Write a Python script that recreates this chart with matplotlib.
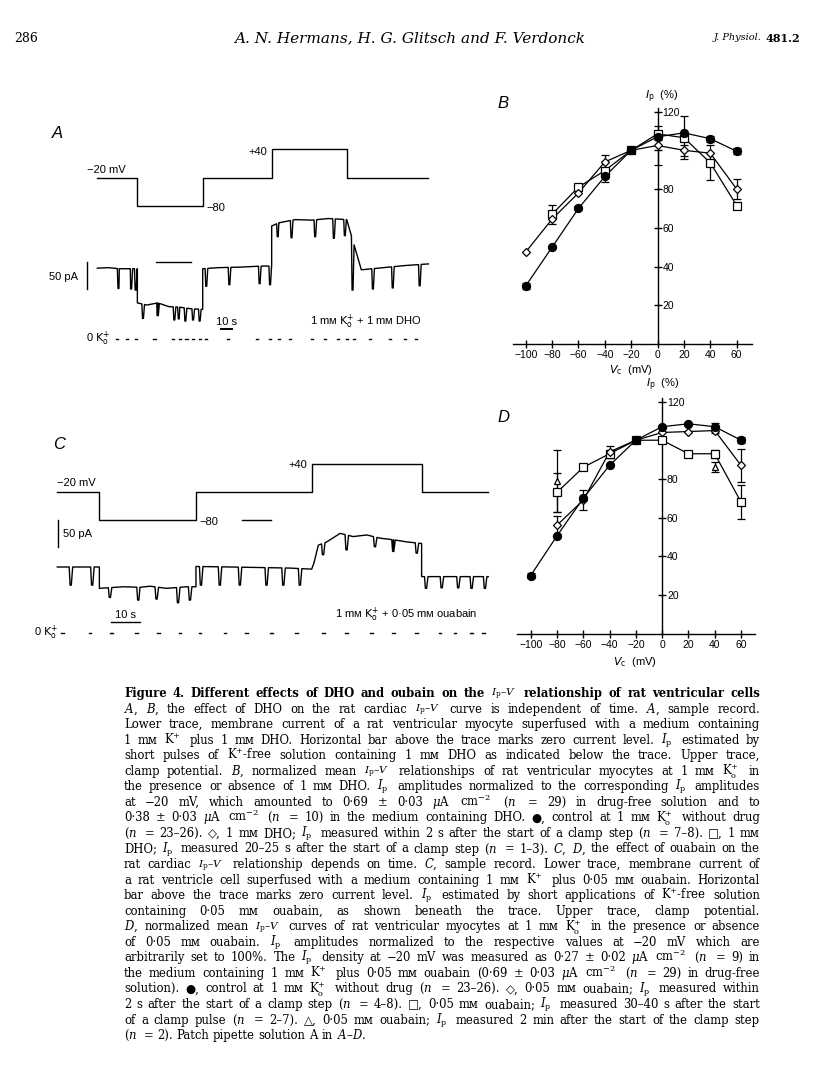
import matplotlib
matplotlib.use("Agg")
import matplotlib.pyplot as plt
import numpy as np

W, H = 816, 1091
plt.rcParams['font.family'] = ['Liberation Sans', 'DejaVu Sans']
plt.rcParams['mathtext.fontset'] = 'dejavusans'

# ---- I-V data (normalized Ip, %) ----
volts = [-100, -80, -60, -40, -20, 0, 20, 40, 60]
nan = np.nan

b_ctrl = [30, 50, 70, 86.5, 100, 107, 109, 106, 99.5]
b_ctrl_err = [1.5, 0, 1, 3, 0, 1.5, 0, 1.5, 1.5]
b_fast = [47.5, 64.5, 78, 94, 100, 102.5, 100, 98.5, 80]
b_fast_err = [0, 0, 0, 3.5, 0, 10, 3, 0, 5]
b_slow = [nan, 67, 81, 89.5, 100, 108.5, 106.5, 93.5, 71.5]
b_slow_err = [0, 5, 0, 0, 0, 0, 11, 9, 0]

d_ctrl = [30, 50.5, 70, 87, 100, 107, 108.5, 107, 100]
d_ctrl_err = [1.5, 0, 0, 0, 0, 0, 0, 2, 1.5]
d_fast = [nan, 56, 69, 94, 100, 104, 104.5, 105, 87]
d_fast_err = [0, 5, 5, 3, 0, 0, 0, 1.5, 8.5]
d_slow = [nan, 73, 86, 93, 100, 100, 93, 93, 68]
d_slow_err = [0, 10, 1, 2, 0, 0, 1.5, 2, 9]
d_tri_v = [-80, 40]
d_tri = [79, 86]
d_tri_err = [16, 2.5]

y_ticks = [20, 40, 60, 80, 100, 120]
y_labels = ["20", "40", "60", "80", "", "120"]

# ---- sample records (time s, current pA, clamp mV) ----
a_clamp_t = [0, 36.4, 36.4, 95.8, 95.8, 158.5, 158.5, 226.7, 226.7, 301]
a_clamp_v = [-20, -20, -80, -80, -20, -20, 40, 40, -20, -20]
a_base_t = [0, 10, 20, 30, 36.4, 36.4, 45, 55, 65, 75, 85, 95.8, 95.8, 110, 130, 150,
            158.5, 158.5, 165, 180, 195, 210, 226.7, 226.7, 240, 260, 280, 301]
a_base_i = [-11, -10, -12, -12, -12, -76, -80, -76, -83, -84, -87, -88, -12, -10, -9, -7,
            -7, 68, 74, 80, 79, 82, 80, 80, -14, -10, -6, -3]
a_dips = [(18.2, -49), (29.7, -50), (33.8, -52),
          (40.5, -105), (54, -100), (69, -108), (73, -106), (79, -110), (86, -108), (92, -110),
          (98, -45), (119, -42), (146.5, -40), (156, -42),
          (163, 48), (175.5, 46), (197, 48), (214, 45), (224, 50),
          (231, -52), (249.5, -50), (267.5, -48), (292, -44)]
a_dashes = [18, 27, 35, 52, 69, 75, 81, 87, 93, 99, 119, 145, 157, 165, 175, 195,
            207, 219, 227, 233, 248, 266, 280, 290]

c_clamp_t = [0, 14.5, 14.5, 47.8, 47.8, 87.7, 87.7, 125.6, 125.6, 148.6]
c_clamp_v = [-20, -20, -80, -80, -20, -20, 40, 40, -20, -20]
c_base_t = [0, 14.5, 14.5, 22.8, 28.5, 32, 37.7, 44.6, 47.8, 47.8, 60, 70, 80, 87.7,
            88.5, 90, 92.9, 97.5, 102, 106.7, 111.3, 115.9, 120.5, 125.6, 125.6, 135, 148.6]
c_base_i = [-88, -88, -128, -125, -126, -124, -128, -125, -125, -87, -88, -89, -90, -92,
            -80, -47, -41, -25, -31, -28, -34, -37, -41, -44, -106, -106, -106]
c_dips = [(4.1, -122), (11.5, -122),
          (17.6, -145), (27.4, -150), (33.7, -148), (41.1, -155), (45.2, -150),
          (49, -122), (55.5, -122), (62.4, -122), (71.6, -122), (77.4, -122), (83.1, -122),
          (91.1, -65), (99.2, -56), (109, -50), (115.3, -59), (123.4, -62),
          (126.6, -128), (132, -127), (137.7, -127), (142.3, -128), (146.9, -128)]
c_dashes = [1.8, 11.3, 18.7, 27.4, 34.8, 42.3, 49.2, 57.8, 65.3, 73.9, 82.5, 91.7,
            99.8, 108.4, 115.9, 123.9, 132, 137.1, 142.9, 146.9]

caption = [
    "Figure 4. Different effects of DHO and oubain on the $I_\\mathrm{p}$–$V$ relationship of rat ventricular cells",
    "$A$, $B$, the effect of DHO on the rat cardiac $I_\\mathrm{p}$–$V$ curve is independent of time. $A$, sample record.",
    "Lower trace, membrane current of a rat ventricular myocyte superfused with a medium containing",
    "1 mᴍ $\\mathrm{K}^{+}$ plus 1 mᴍ DHO. Horizontal bar above the trace marks zero current level. $I_\\mathrm{p}$ estimated by",
    "short pulses of $\\mathrm{K}^{+}$-free solution containing 1 mᴍ DHO as indicated below the trace. Upper trace,",
    "clamp potential. $B$, normalized mean $I_\\mathrm{p}$–$V$ relationships of rat ventricular myocytes at 1 mᴍ $\\mathrm{K}^{+}_{\\mathrm{o}}$ in",
    "the presence or absence of 1 mᴍ DHO. $I_\\mathrm{p}$ amplitudes normalized to the corresponding $I_\\mathrm{p}$ amplitudes",
    "at −20 mV, which amounted to 0·69 ± 0·03 $\\mu$A $\\mathrm{cm}^{-2}$ ($n$ = 29) in drug-free solution and to",
    "0·38 ± 0·03 $\\mu$A $\\mathrm{cm}^{-2}$ ($n$ = 10) in the medium containing DHO. ●, control at 1 mᴍ $\\mathrm{K}^{+}_{\\mathrm{o}}$ without drug",
    "($n$ = 23–26). ◇, 1 mᴍ DHO; $I_\\mathrm{p}$ measured within 2 s after the start of a clamp step ($n$ = 7–8). □, 1 mᴍ",
    "DHO; $I_\\mathrm{p}$ measured 20–25 s after the start of a clamp step ($n$ = 1–3). $C$, $D$, the effect of ouabain on the",
    "rat cardiac $I_\\mathrm{p}$–$V$ relationship depends on time. $C$, sample record. Lower trace, membrane current of",
    "a rat ventricle cell superfused with a medium containing 1 mᴍ $\\mathrm{K}^{+}$ plus 0·05 mᴍ ouabain. Horizontal",
    "bar above the trace marks zero current level. $I_\\mathrm{p}$ estimated by short applications of $\\mathrm{K}^{+}$-free solution",
    "containing 0·05 mᴍ ouabain, as shown beneath the trace. Upper trace, clamp potential.",
    "$D$, normalized mean $I_\\mathrm{p}$–$V$ curves of rat ventricular myocytes at 1 mᴍ $\\mathrm{K}^{+}_{\\mathrm{o}}$ in the presence or absence",
    "of 0·05 mᴍ ouabain. $I_\\mathrm{p}$ amplitudes normalized to the respective values at −20 mV which are",
    "arbitrarily set to 100%. The $I_\\mathrm{p}$ density at −20 mV was measured as 0·27 ± 0·02 $\\mu$A $\\mathrm{cm}^{-2}$ ($n$ = 9) in",
    "the medium containing 1 mᴍ $\\mathrm{K}^{+}$ plus 0·05 mᴍ ouabain (0·69 ± 0·03 $\\mu$A $\\mathrm{cm}^{-2}$ ($n$ = 29) in drug-free",
    "solution). ●, control at 1 mᴍ $\\mathrm{K}^{+}_{\\mathrm{o}}$ without drug ($n$ = 23–26). ◇, 0·05 mᴍ ouabain; $I_\\mathrm{p}$ measured within",
    "2 s after the start of a clamp step ($n$ = 4–8). □, 0·05 mᴍ ouabain; $I_\\mathrm{p}$ measured 30–40 s after the start",
    "of a clamp pulse ($n$ = 2–7). △, 0·05 mᴍ ouabain; $I_\\mathrm{p}$ measured 2 min after the start of the clamp step",
    "($n$ = 2). Patch pipette solution A in $A$–$D$.",
]


def fx(x):
    return x / W


def fy(y):
    return 1 - y / H


def rect(x0, y0, x1, y1):
    return [x0 / W, 1 - y1 / H, (x1 - x0) / W, (y1 - y0) / H]


def build_trace(base_t, base_i, dips, width):
    pts = list(zip(base_t, base_i))
    for t0, low in dips:
        b0 = np.interp(t0, base_t, base_i)
        b1 = np.interp(t0 + width, base_t, base_i)
        pts += [(t0, b0), (t0 + 0.25 * width, low), (t0 + 0.6 * width, low), (t0 + width, b1)]
    pts.sort(key=lambda p: p[0])
    return [p[0] for p in pts], [p[1] for p in pts]


def draw_series(ax, v, y, err, marker, ms, mfc, connect=True):
    v = np.array(v, float)
    y = np.array(y, float)
    err = np.array(err, float)
    ok = ~np.isnan(y)
    if connect:
        ax.plot(v[ok], y[ok], color='black', lw=0.9, zorder=2)
    e = ok & (err > 0)
    ax.errorbar(v[e], y[e], yerr=err[e], fmt='none', ecolor='black', elinewidth=0.9,
                capsize=2.8, capthick=0.9, zorder=3)
    ax.plot(v[ok], y[ok], linestyle='none', marker=marker, ms=ms, mfc=mfc,
            mec='black', mew=0.9, zorder=4)


def iv_axes(r, xlim):
    ax = fig.add_axes(r)
    ax.set_xlim(*xlim)
    ax.set_ylim(0, 122)
    ax.patch.set_alpha(0)
    ax.spines['left'].set_visible(False)
    ax.spines['top'].set_visible(False)
    ax.spines['right'].set_position(('data', 0))
    ax.yaxis.tick_right()
    for s in ('right', 'bottom'):
        ax.spines[s].set_linewidth(1.0)
    ax.set_xticks(volts)
    ax.set_yticks(y_ticks)
    ax.set_yticklabels(y_labels)
    ax.tick_params(direction='inout', length=6, width=1.0, labelsize=7.5, pad=1.5)
    ax.tick_params(axis='y', pad=0.5)
    return ax


def frameless(r, xlim, ylim):
    ax = fig.add_axes(r)
    ax.set_xlim(*xlim)
    ax.set_ylim(*ylim)
    ax.axis('off')
    return ax


fig = plt.figure(figsize=(W / 100, H / 100), dpi=100)

# ---- header ----
hdr = ['DejaVu Serif', 'DejaVu Sans']
fig.text(fx(14), fy(38), "286", fontsize=9, family=hdr, va='center')
fig.text(fx(410), fy(38), "A. N. Hermans, H. G. Glitsch and F. Verdonck", fontsize=11,
         family=hdr, style='italic', ha='center', va='center')
fig.text(fx(762), fy(38), "J. Physiol.", fontsize=7, family=hdr, style='italic',
         ha='right', va='center')
fig.text(fx(766), fy(38), "481.2", fontsize=8, family=hdr, weight='bold', va='center')

# ---- panel A ----
ta, ia = build_trace(a_base_t, a_base_i, a_dips, 2.4)
axAv = frameless(rect(40, 130, 460, 220), (-52.1, 329.7), (-109.1, 80.4))
axAv.plot(a_clamp_t, a_clamp_v, color='black', lw=1.0)
axAv.text(-9.6, -3.8, "−20 mV", fontsize=8, va='center', ha='left')
axAv.text(99.5, -84.4, "−80", fontsize=8, va='center', ha='left')
axAv.text(154.3, 34.7, "+40", fontsize=8, va='center', ha='right')

axAi = frameless(rect(40, 200, 460, 350), (-52.1, 329.7), (-164.2, 116.7))
axAi.plot(ta, ia, color='black', lw=1.0)
axAi.plot([53.4, 84.9], [0, 0], color='black', lw=1.0)
axAi.plot([-9.6, -9.6], [0, -50], color='black', lw=1.0)
axAi.text(-17.5, -27, "50 pA", fontsize=8, va='center', ha='right')
axAi.plot([112.2, 122.2], [-125.5, -125.5], color='black', lw=1.4)
axAi.text(117.2, -112, "10 s", fontsize=8, va='center', ha='center')
axAi.text(244, -112, "1 mᴍ $\\mathrm{K}^{+}_{\\mathrm{o}}$ + 1 mᴍ DHO", fontsize=8,
          va='center', ha='center')
axAi.text(11.5, -144.2, "0 $\\mathrm{K}^{+}_{\\mathrm{o}}$", fontsize=8, va='center', ha='right')
for t in a_dashes:
    axAi.plot([t - 1.0, t + 1.0], [-144.2, -144.2], color='black', lw=1.0)
fig.text(fx(57), fy(133), "A", fontsize=12, style='italic', ha='center', va='center')

# ---- panel C ----
tc, ic = build_trace(c_base_t, c_base_i, c_dips, 1.2)
axCv = frameless(rect(40, 450, 495, 530), (-5.97, 150.9), (-101.1, 71.0))
axCv.plot(c_clamp_t, c_clamp_v, color='black', lw=1.0)
axCv.text(0, -0.6, "−20 mV", fontsize=8, va='center', ha='left')
axCv.text(49, -84.5, "−80", fontsize=8, va='center', ha='left')
axCv.text(86, 38.7, "+40", fontsize=8, va='center', ha='right')

axCi = frameless(rect(40, 500, 495, 645), (-5.97, 150.9), (-234.1, 37.5))
axCi.plot(tc, ic, color='black', lw=1.0)
axCi.plot([63.6, 73.6], [0, 0], color='black', lw=1.0)
axCi.plot([0.35, 0.35], [0, -50], color='black', lw=1.0)
axCi.text(1.9, -26.8, "50 pA", fontsize=8, va='center', ha='left')
axCi.plot([18.5, 28.5], [-190.4, -190.4], color='black', lw=1.0)
axCi.text(23.5, -178, "10 s", fontsize=8, va='center', ha='center')
axCi.text(120.2, -178, "1 mᴍ $\\mathrm{K}^{+}_{\\mathrm{o}}$ + 0·05 mᴍ ouabain", fontsize=8,
          va='center', ha='center')
axCi.text(0.5, -211, "0 $\\mathrm{K}^{+}_{\\mathrm{o}}$", fontsize=8, va='center', ha='right')
for t in c_dashes:
    axCi.plot([t - 0.45, t + 0.45], [-211, -211], color='black', lw=1.0)
fig.text(fx(59), fy(445), "C", fontsize=12, style='italic', ha='center', va='center')

# ---- panel B ----
axB = iv_axes(rect(512.7, 107.7, 751.7, 344), (-109.9, 71.4))
draw_series(axB, volts, b_slow, b_slow_err, 's', 6, 'white')
draw_series(axB, volts, b_fast, b_fast_err, 'D', 3.6, 'white')
draw_series(axB, volts, b_ctrl, b_ctrl_err, 'o', 5.8, 'black')
fig.text(fx(662), fy(97), "$I_\\mathrm{p}$  (%)", fontsize=8, ha='center', va='center')
fig.text(fx(631), fy(370), "$V_\\mathrm{c}$  (mV)", fontsize=8, ha='center', va='center')
fig.text(fx(503), fy(103), "B", fontsize=12, style='italic', ha='center', va='center')

# ---- panel D ----
axD = iv_axes(rect(516.7, 397.7, 755, 633.5), (-110.65, 70.65))
draw_series(axD, volts, d_slow, d_slow_err, 's', 6, 'white')
draw_series(axD, volts, d_fast, d_fast_err, 'D', 3.6, 'white')
draw_series(axD, volts, d_ctrl, d_ctrl_err, 'o', 5.8, 'black')
draw_series(axD, d_tri_v, d_tri, d_tri_err, '^', 4.5, 'white', connect=False)
fig.text(fx(663), fy(385), "$I_\\mathrm{p}$  (%)", fontsize=8, ha='center', va='center')
fig.text(fx(635), fy(662), "$V_\\mathrm{c}$  (mV)", fontsize=8, ha='center', va='center')
fig.text(fx(503), fy(417), "D", fontsize=12, style='italic', ha='center', va='center')

# ---- caption (justified lines) ----
cap_x0, cap_x1 = 124, 760
cap_y0, cap_dy = 697, 15.55
cap_kw = dict(family=['DejaVu Serif', 'DejaVu Sans'], math_fontfamily='dejavuserif',
              va='baseline')
renderer = fig.canvas.get_renderer()
last = len(caption) - 1
for i, line in enumerate(caption):
    y = cap_y0 + i * cap_dy
    words = line.split(' ')
    size = 8.4
    while True:
        texts = []
        for w in words:
            # subscripted maths a touch smaller so it keeps clear of the next line
            s = size * 0.9 if '_' in w and '–' in w else size
            texts.append(fig.text(0, fy(y), w, fontsize=s,
                                  fontweight='bold' if i == 0 else 'normal', **cap_kw))
        widths = [t.get_window_extent(renderer).width + (2.5 if w.endswith('$') else 0)
                  for t, w in zip(texts, words)]
        free = (cap_x1 - cap_x0) - sum(widths)
        if i == last or free / (len(words) - 1) >= 3.2:
            break
        for t in texts:
            t.remove()
        size -= 0.15
    gap = free / (len(words) - 1) if i < last else 3.8
    x = cap_x0
    for t, w in zip(texts, widths):
        t.set_x(fx(x))
        x += w + gap

fig.savefig('out.png', dpi=100)
